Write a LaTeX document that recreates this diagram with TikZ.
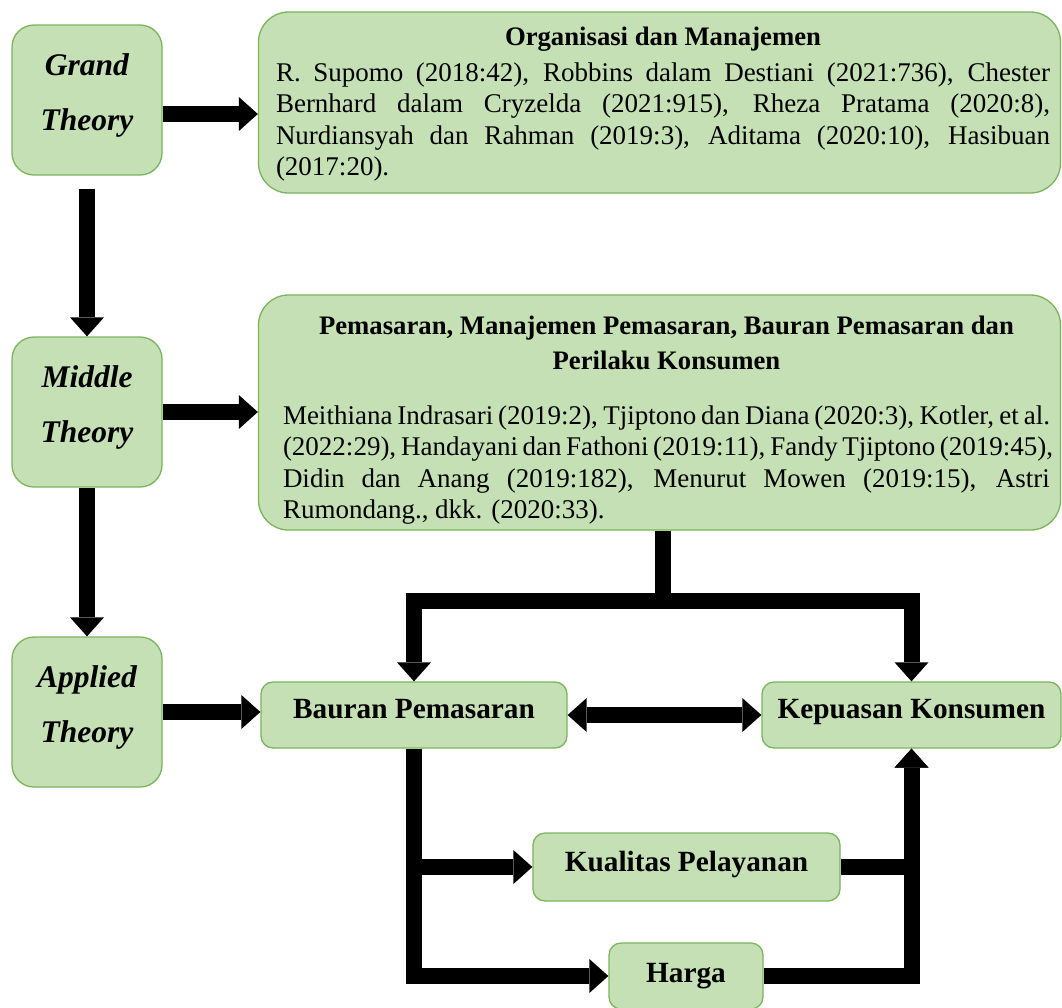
\documentclass[tikz,border=0pt]{standalone}
\usepackage{fontspec}
\setmainfont{Liberation Serif}
\usetikzlibrary{arrows.meta}
\definecolor{boxfill}{HTML}{C5E0B4}
\definecolor{boxline}{HTML}{7AB55C}
\newcommand{\jline}[1]{\makebox[\linewidth][s]{#1}\par}
\begin{document}
\begin{tikzpicture}[x=1pt,y=-1pt,
  box/.style={draw=boxline, fill=boxfill, line width=1.3pt},
  theory/.style={box, rounded corners=22pt, minimum width=150pt, minimum height=150pt, inner sep=0pt, align=center, font=\fontsize{31.5}{55}\selectfont\bfseries\itshape},
  textbox/.style={box, rounded corners=30pt, inner sep=0pt, font=\fontsize{27}{31.3}\selectfont},
  varbox/.style={box, rounded corners=12pt, inner sep=0pt, font=\fontsize{29.3}{32}\selectfont\bfseries, execute at end node={\rule[-12pt]{0pt}{12pt}}},
  conn/.style={line width=16pt},
  arr/.style={conn, -{Triangle[length=19pt,width=34pt,line width=0pt]}},
  darr/.style={conn, {Triangle[length=19pt,width=34pt,line width=0pt]}-{Triangle[length=19pt,width=34pt,line width=0pt]}}]
\useasboundingbox (0,0) rectangle (1062,1007);
\fill[white] (0,0) rectangle (1062,1007);

% theory boxes
\node[theory] (grand) at (87,100) {Grand\\Theory\rule[-16pt]{0pt}{16pt}};
\node[theory] (mid) at (87,412) {Middle\\Theory\rule[-16pt]{0pt}{16pt}};
\node[theory] (app) at (87,712) {Applied\\Theory\rule[-16pt]{0pt}{16pt}};

% text boxes
\node[textbox, minimum width=802pt, minimum height=181pt] (org) at (659.5,102.5)
 {\hspace*{7pt}\parbox[c]{774pt}{\parindent=0pt\parskip=0pt
  \vspace*{3pt}
  {\centering\bfseries\fontsize{26.7}{31}\selectfont Organisasi dan Manajemen\par}\vspace{5pt}
  \jline{R. Supomo (2018:42), Robbins dalam Destiani (2021:736), Chester}
  \jline{Bernhard dalam Cryzelda (2021:915), Rheza Pratama (2020:8),}
  \jline{Nurdiansyah dan Rahman (2019:3), Aditama (2020:10), Hasibuan}
  (2017:20).}};

\node[textbox, minimum width=802pt, minimum height=235pt] (pem) at (659.5,412.5)
 {\hspace*{14pt}\parbox[c]{767pt}{\parindent=0pt\parskip=0pt
  \vspace*{15pt}
  {\centering\bfseries\fontsize{26.7}{35}\selectfont Pemasaran, Manajemen Pemasaran, Bauran Pemasaran dan\\ Perilaku Konsumen\par}\vspace{24pt}
  \jline{Meithiana Indrasari (2019:2), Tjiptono dan Diana (2020:3), Kotler, et al.}
  \jline{(2022:29), Handayani dan Fathoni (2019:11), Fandy Tjiptono (2019:45),}
  \jline{Didin dan Anang (2019:182), Menurut Mowen (2019:15), Astri}
  Rumondang., dkk. (2020:33).}};

% variable boxes
\node[varbox, minimum width=306pt, minimum height=66pt] (baur) at (414,715) {Bauran Pemasaran};
\node[varbox, minimum width=299pt, minimum height=66pt] (kep) at (911.5,715) {Kepuasan Konsumen};
\node[varbox, minimum width=307pt, minimum height=68pt] (kual) at (686.5,867) {Kualitas Pelayanan};
\node[varbox, minimum width=154pt, minimum height=66pt, execute at end node={\rule{0pt}{25pt}}] (harga) at (686,976) {Harga};

% connectors
\coordinate (ga) at ([yshift=-14pt]grand.east);
\draw[arr] (ga) -- (ga -| org.west);
\draw[arr] ([yshift=-13pt]grand.south) -- (mid.north);
\draw[arr] (mid.east) -- (mid.east -| pem.west);
\draw[arr] (mid.south) -- (app.north);
\draw[arr] (app.east) -- (app.east -| baur.west);

\coordinate (split) at (663,601);
\draw[conn] (split |- pem.south) -- (split);
\draw[arr] (split) -| (baur.north);
\draw[arr] (split) -| (kep.north);

\draw[darr] (baur.east) -- (kep.west);

\draw[arr] (baur.south) |- (kual.west);
\draw[arr] (baur.south) |- (harga.west);
\draw[arr] (kual.east) -| (kep.south);
\draw[arr] (harga.east) -| (kep.south);
\end{tikzpicture}
\end{document}
